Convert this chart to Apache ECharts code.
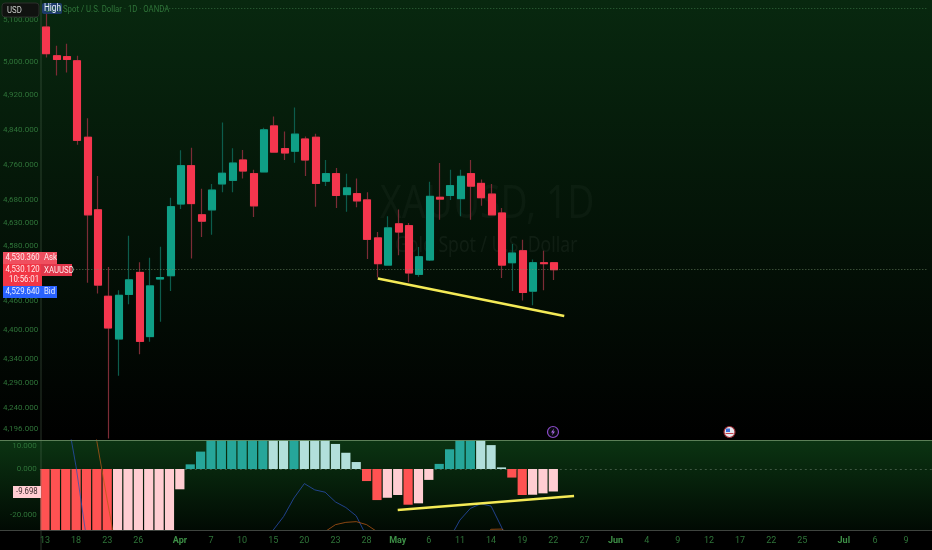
<!DOCTYPE html>
<html><head><meta charset="utf-8">
<style>html,body{margin:0;padding:0;background:#000}#c{width:932px;height:550px}</style>
<script src="https://cdn.jsdelivr.net/npm/echarts@6/dist/echarts.min.js"></script>
</head><body><div id="c"></div>
<script>
// Trading days, 2026-03-13 .. 2026-07-13
const categories = ['03-13','03-16','03-17','03-18','03-19','03-20','03-23','03-24','03-25','03-26','03-27','03-30','03-31',
'04-01','04-02','04-06','04-07','04-08','04-09','04-10','04-13','04-14','04-15','04-16','04-17','04-20','04-21','04-22','04-23','04-24','04-27','04-28','04-29','04-30',
'05-01','05-04','05-05','05-06','05-07','05-08','05-11','05-12','05-13','05-14','05-15','05-18','05-19','05-20','05-21','05-22','05-25','05-26','05-27','05-28','05-29',
'06-01','06-02','06-03','06-04','06-05','06-08','06-09','06-10','06-11','06-12','06-15','06-16','06-17','06-18','06-19','06-22','06-23','06-24','06-25','06-26','06-29','06-30',
'07-01','07-02','07-03','07-06','07-07','07-08','07-09','07-10','07-13'];
const tickDates = ['03-13','03-18','03-23','03-26','04-01','04-07','04-10','04-15','04-20','04-23','04-28','05-01','05-06','05-11','05-14','05-19','05-22','05-27','06-01','06-04','06-09','06-12','06-17','06-22','06-25','07-01','07-06','07-09'];
const tickLabels = ['13','18','23','26','Apr','7','10','15','20','23','28','May','6','11','14','19','22','27','Jun','4','9','12','17','22','25','Jul','6','9'];
// open, close, low, high
const ohlc = [
[5083,5019,5010,5124],[5014,5005,4967,5038],[5012,5005,4974,5043],[5002,4816,4806,5014],[4823,4648,4500,4867],
[4659,4495,4477,4735],[4471,4404,4178,4534],[4381,4473,4305,4484],[4475,4506,4454,4602],[4522,4376,4349,4544],
[4386,4493,4375,4554],[4508,4511,4417,4578],[4515,4666,4482,4686],[4672,4758,4661,4793],[4758,4673,4552,4799],
[4648,4634,4599,4706],[4659,4703,4604,4717],[4717,4741,4698,4857],[4725,4764,4698,4798],[4771,4746,4729,4794],
[4740,4668,4643,4749],[4744,4840,4744,4845],[4849,4789,4789,4871],[4797,4787,4771,4836],[4791,4830,4765,4892],
[4819,4771,4735,4825],[4823,4718,4666,4831],[4723,4740,4712,4771],[4740,4691,4663,4753],[4693,4708,4655,4740],
[4695,4679,4665,4729],[4681,4594,4551,4698],[4597,4541,4511,4610],[4538,4619,4538,4645],[4628,4610,4559,4660],
[4624,4521,4501,4630],[4518,4556,4513,4577],[4549,4689,4547,4722],[4687,4683,4637,4764],[4691,4713,4681,4749],
[4684,4734,4645,4749],[4740,4712,4637,4771],[4718,4686,4668,4727],[4694,4648,4648,4717],[4652,4538,4510,4663],
[4543,4564,4482,4584],[4569,4479,4462,4593],[4482,4543,4452,4550],[4543,4541,4484,4569],[4543,4528,4506,4543]];
const priceTicks = [5100,5000,4920,4840,4760,4680,4630,4580,4460,4400,4340,4290,4240,4196];
const oscTicks = [10,0,-20];
const hist = [-30,-36,-42,-50,-58,-64,-70,-62,-54,-46,-38,-32,-28,-8.75,2,7.5,14,18,21,23,24.5,25,23,20,21.5,21,18,14,10.8,7,3,
-5.2,-13.4,-12.4,-11.2,-15.4,-14.8,-4.7,2.2,8.5,13,15,14,10.3,0.7,-3.7,-11.2,-11.1,-10.5,-9.7];
const blueLine = [60,45,26,0.9,-30,-55,-70,-85,-90,-95,-100,-95,-90,-85,-80,-75,-70,-62,-55,-45,-38,-33,-26.3,-20.5,-12.5,-6.3,-9,-10,-14.2,-16.6,-20.2,-29,-40,-48,-55,-58,-56,-50,-42,-30,-22,-17,-15,-16,-25,-35,-42,-46,-48,-50];
const orangeLine = [90,80,65,50,38,11.9,-13.4,-38,-55,-68,-75,-78,-76,-70,-62,-55,-50,-46,-42,-40,-38,-36,-35,-34,-33,-32,-30,-27,-24,-23,-22.7,-24,-27,-31,-35,-38,-40,-40,-39,-37,-34,-32,-30,-26,-25.9,-28.5,-32,-35,-37,-39];
const trendMainPts = [['04-29',4509],['05-25',4429]];
const trendOscPts = [['05-01',-17.7],['05-26',-11.6]];
const lastPrice = 4528, highPrice = 5128;

const UP='#0f9f86', DOWN='#f5364e';
const fmt = v => Number(v).toLocaleString('en-US',{minimumFractionDigits:3,maximumFractionDigits:3});
const labelFont = 'Roboto';
const histColor = (v,p) => v>=0 ? (p===undefined||v>p ? '#26a69a':'#b2dfdb') : (p===undefined||v<p ? '#ff5252':'#ffcdd2');
const grad = (a,b)=>new echarts.graphic.LinearGradient(0,0,0,1,[{offset:0,color:a},{offset:1,color:b}]);
const textEl=(x,y,s,color,size,extra)=>({type:'text',z:50,x,y,scaleX:.82,style:Object.assign({text:s,fill:color,font:size+'px "'+labelFont+'"',textVerticalAlign:'middle'},extra||{})});
const rectEl=(x,y,w,h,fill,r)=>({type:'rect',z:49,shape:{x,y,width:w,height:h,r:r||0},style:{fill}});
const lineEl=(x1,y1,x2,y2,stroke,z)=>({type:'line',z:z||5,shape:{x1,y1,x2,y2},style:{stroke,lineWidth:1}});

const chart = echarts.init(document.getElementById('c'),null,{renderer:'canvas'});
chart.setOption({
 animation:false, backgroundColor:'#000',
 grid:[{left:39.8,width:892.2,top:0,height:440},{left:39.8,width:892.2,top:440,height:90}],
 xAxis:[
  {type:'category',gridIndex:0,data:categories,axisLine:{show:false},axisTick:{show:false},axisLabel:{show:false},splitLine:{show:false}},
  {type:'category',gridIndex:1,data:categories,axisLine:{show:false},axisTick:{show:false},splitLine:{show:false},
   axisLabel:{interval:(i,v)=>tickDates.includes(v),margin:6,fontFamily:labelFont,fontSize:8.5,hideOverlap:false,showMinLabel:true,
    formatter:v=>{const k=tickDates.indexOf(v);const s=tickLabels[k];return /[A-Z]/.test(s)?'{m|'+s+'}':'{d|'+s+'}';},
    rich:{m:{color:'#3d8f46',fontWeight:'bold',fontSize:9,fontFamily:labelFont},d:{color:'#2f7439',fontSize:9,fontFamily:labelFont}}}},
  {type:'category',gridIndex:0,data:categories,axisLine:{show:false},axisTick:{show:false},axisLabel:{show:false},splitLine:{show:false}}
 ],
 yAxis:[
  {type:'log',gridIndex:0,min:4175,max:5149,position:'left',axisLine:{show:false},axisTick:{show:false},splitLine:{show:false},
   axisLabel:{customValues:priceTicks,formatter:fmt,color:'#2f7439',fontSize:8,fontFamily:labelFont,margin:3,showMinLabel:true,showMaxLabel:true}},
  {type:'value',gridIndex:1,min:-26.3,max:12.5,position:'left',axisLine:{show:false},axisTick:{show:false},splitLine:{show:false},
   axisLabel:{customValues:oscTicks,formatter:fmt,color:'#2f7439',fontSize:8,fontFamily:labelFont,margin:3}}
 ],
 series:[
  {type:'candlestick',name:'wicks',xAxisIndex:2,yAxisIndex:0,barWidth:7.5,data:ohlc,clip:true,z:2,
   itemStyle:{color:'#0c5c4c',color0:'#7c2c36',borderColor:'#0c5c4c',borderColor0:'#7c2c36',borderWidth:1.2}},
  {type:'candlestick',name:'bodies',xAxisIndex:0,yAxisIndex:0,barWidth:7.5,clip:true,z:3,
   data:ohlc.map(d=>[d[0],d[1],Math.min(d[0],d[1]),Math.max(d[0],d[1])]),
   itemStyle:{color:UP,color0:DOWN,borderColor:UP,borderColor0:DOWN,borderWidth:1},
   markLine:{silent:true,symbol:'none',label:{show:false},animation:false,
    data:[
     [{coord:[categories[0],lastPrice],lineStyle:{color:'rgba(120,150,110,.7)',type:[1,2],width:1}},{coord:[categories[85],lastPrice]}],
     [{coord:[categories[11],highPrice],lineStyle:{color:'rgba(70,130,80,.7)',type:[1,2],width:1}},{coord:[categories[85],highPrice]}]
    ]}},
  {type:'line',name:'trend',xAxisIndex:0,yAxisIndex:0,data:trendMainPts,showSymbol:false,z:6,lineStyle:{color:'#f4ea56',width:2.5}},
  {type:'bar',name:'hist',xAxisIndex:1,yAxisIndex:1,barWidth:9.2,z:2,clip:true,
   data:hist.map((v,i)=>({value:v,itemStyle:{color:histColor(v,hist[i-1])}})),
   markLine:{silent:true,symbol:'none',label:{show:false},animation:false,z:1,
    data:[{yAxis:0,lineStyle:{color:'rgba(130,150,130,.45)',type:[2,3],width:1}}]}},
  {type:'line',name:'blue',xAxisIndex:1,yAxisIndex:1,data:blueLine,showSymbol:false,z:3,clip:true,lineStyle:{color:'#2b52b8',width:1,opacity:.75}},
  {type:'line',name:'orange',xAxisIndex:1,yAxisIndex:1,data:orangeLine,showSymbol:false,z:3,clip:true,lineStyle:{color:'#b85a18',width:1,opacity:.75}},
  {type:'line',name:'trend2',xAxisIndex:1,yAxisIndex:1,data:trendOscPts,showSymbol:false,z:6,clip:true,lineStyle:{color:'#f4ea56',width:2.5}}
 ],
 graphic:{elements:[
  {type:'rect',z:-10,shape:{x:0,y:0,width:932,height:440},style:{fill:grad('#08280f','#000000')}},
  {type:'rect',z:-10,shape:{x:0,y:440,width:932,height:90},style:{fill:grad('#0b3412','#010a03')}},
  {type:'text',z:-5,x:380,y:205,scaleX:.81,style:{text:'XAUUSD, 1D',fill:'rgba(255,255,255,.03)',font:'46px "Noto Sans"',textVerticalAlign:'middle'}},
  {type:'text',z:-5,x:395,y:246,scaleX:.8,style:{text:'Gold Spot / U.S. Dollar',fill:'rgba(255,255,255,.05)',font:'22px "Noto Sans"',textVerticalAlign:'middle'}},
  lineEl(41,0,41,550,'rgba(90,115,90,.45)'),
  lineEl(0,440.5,932,440.5,'rgba(100,135,95,.9)'),
  lineEl(0,530.5,932,530.5,'rgba(70,75,70,.9)'),
  // header
  textEl(45,10,'Gold Spot / U.S. Dollar · 1D · OANDA','#2f7439',9.5),
  rectEl(42,3,20,11,'#1d3a6b',2),
  textEl(44,8.5,'High','#e6eefc',10),
  {type:'rect',z:49,shape:{x:2,y:3,width:37,height:14,r:3},style:{fill:'#101210',stroke:'#2a2e2a',lineWidth:1}},
  textEl(7,10.5,'USD','#c9ccc9',9.5),
  // price tags
  rectEl(3,252,39,12,'#ef4f5f'),rectEl(42,252,15,12,'#ef4f5f'),
  textEl(5.5,258,'4,530.360','#ffe9ea',9.5),textEl(44,258,'Ask','#ffe9ea',9.5),
  rectEl(3,264,39,22,'#f23645'),rectEl(41,264,31,12,'#e0364a'),
  textEl(5.5,270,'4,530.120','#ffe9ea',9.5),textEl(9,279.5,'10:56:01','#ffe9ea',9.5),textEl(44,270.5,'XAUUSD','#ffe9ea',9.5),
  rectEl(3,286,39,12,'#2962ff'),rectEl(42,286,15,12,'#2962ff'),
  textEl(5.5,292,'4,529.640','#e8eeff',9.5),textEl(44,292,'Bid','#e8eeff',9.5),
  rectEl(13,486,28,12,'#ffcdd2'),textEl(16,492,'-9.698','#3b2a2c',9.5),
  // event icons
  {type:'circle',z:49,shape:{cx:553,cy:432,r:5.5},style:{fill:'#0a0a10',stroke:'#8a4bc8',lineWidth:1.2}},
  {type:'polygon',z:50,shape:{points:[[554,428.5],[551,432.6],[552.8,432.6],[552,435.5],[555,431.4],[553.2,431.4]]},style:{fill:'#a86ae0'}},
  {type:'circle',z:49,shape:{cx:729.5,cy:432,r:5.5},style:{fill:'#e8e8ee',stroke:'#9c2c34',lineWidth:1.2}},
  {type:'rect',z:50,shape:{x:726,y:428.5,width:4,height:3.5},style:{fill:'#3d6fd8'}},
  {type:'rect',z:50,shape:{x:725.5,y:433,width:8,height:1},style:{fill:'#c8404a'}}
 ]}
});
</script></body></html>
